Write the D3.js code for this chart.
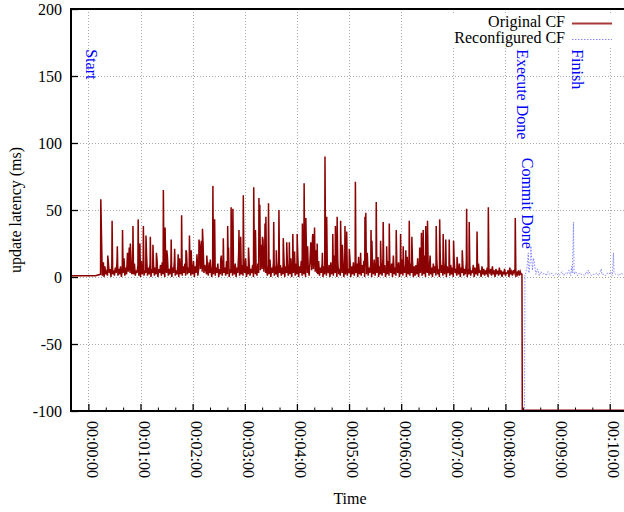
<!DOCTYPE html>
<html>
<head>
  <meta charset="utf-8"/>
  <title>Update latency</title>
  <script src="https://d3js.org/d3.v7.min.js"></script>
  <style>
    body { margin: 0; background: #fff; }
    text { font-family: "Liberation Serif", "DejaVu Serif", serif; }
  </style>
</head>
<body>
<div id="chart"></div>
<script>
// time is in seconds from the start of the run
var yTicks = [-100, -50, 0, 50, 100, 150, 200]
var xMajor = [0, 60, 120, 180, 240, 300, 360, 420, 480, 540, 600]

// Original CF: flat part before the load, a 1 s background trace, then the tall spikes
var origFlatTime = [-20, 8, 14]
var origFlatValue = [1, 1, 2]
var origBaseStart = 16
var origBase = [
  1,5,0,8,2,4,1,11,3,6,0,9,2,5,1,7,3,12,1,6,
  2,8,0,5,3,14,1,7,2,18,4,22,3,15,2,6,2,10,1,5,
  3,9,1,6,0,12,2,8,1,5,3,16,1,7,2,10,0,6,3,9,
  1,7,2,13,0,6,3,9,1,11,2,5,0,8,3,15,1,6,2,9,
  0,7,3,12,1,5,2,9,0,14,2,6,1,8,3,10,1,18,2,7,
  3,9,1,6,2,12,0,8,3,17,1,6,24,6,27,4,25,3,9,5,
  2,8,1,11,3,6,0,9,2,14,1,7,3,10,0,6,2,16,1,8,
  3,7,1,12,2,9,0,6,3,13,1,8,2,10,0,7,3,19,1,6,
  2,9,1,7,3,14,0,8,2,11,1,6,3,9,0,15,2,7,1,10,
  3,18,5,24,6,28,4,22,3,6,1,9,2,13,0,7,3,11,1,8,
  2,6,0,12,3,9,1,7,2,15,0,8,3,11,1,6,2,14,0,9,
  3,7,1,10,2,16,0,8,3,12,1,6,2,9,0,17,3,8,1,11,
  26,5,30,6,28,4,20,3,2,12,1,7,3,10,0,8,2,14,1,6,
  3,9,0,11,2,7,1,16,3,8,0,12,2,6,1,10,3,13,0,7,
  2,9,1,6,3,14,0,8,2,11,1,7,3,10,0,15,2,6,1,9,
  3,12,0,8,2,18,1,7,3,10,0,9,2,13,1,6,3,11,0,8,
  2,7,1,14,3,9,0,6,2,12,1,8,3,10,0,16,2,7,1,9,
  3,11,0,8,2,13,1,6,3,9,0,15,2,7,1,10,3,12,0,8,
  1,9,2,14,0,7,3,11,1,6,2,16,0,8,3,10,1,13,2,7,
  0,10,3,8,1,12,2,6,0,14,3,9,1,7,2,11,0,8,3,6,
  1,9,2,7,0,12,3,6,1,8,2,10,0,7,3,9,1,6,2,11,
  0,6,2,8,1,5,3,9,0,7,2,6,1,10,3,5,0,8,2,6,
  1,5,2,7,0,4,3,6,1,8,2,5,0,6,3,4,1,7,2,5,
  0,4,2,6,1,3,3,5,0,7,2,4,1,5,3,6,0,4,2,5,
  1,4,2
]
var origSpikeTime = [14,17,22,27,33,39,48,51,57,59,63,66,71,74,78,86,88,90,95,99,103,107,112,116,118,127,
  131,136,140,143,145,152,155,160,161,164,166,173,175,178,184,190,192,196,197,200,203,204,207,213,216,219,224,228,231,235,237,240,246,248,250,252,
  258,260,263,269,272,274,281,284,286,290,292,295,297,300,307,313,318,319,325,326,331,333,336,339,343,346,354,359,362,365,369,372,381,
  383,385,388,390,393,400,404,408,411,415,420,424,430,435,438,447,460,491]
var origSpikeValue = [58,11,16,42,23,35,25,38,43,25,38,31,30,24,18,65,37,20,28,21,17,46,20,31,20,28,
  36,16,13,68,43,13,29,38,22,52,51,35,30,61,22,67,35,59,54,30,40,45,55,41,20,50,29,26,26,32,19,32,40,70,44,23,
  32,37,25,18,90,45,32,38,45,42,24,38,34,21,71,18,45,48,35,27,56,15,27,41,23,40,35,32,23,20,42,30,22,
  33,35,38,42,16,38,43,32,28,28,27,15,20,51,41,34,52,44]
var origTailTime = [499, 499.4, 640]
var origTailValue = [2, -99.5, -99.5]

// Reconfigured CF: sits at -100 until it takes over
var reconfHeadTime = [-20, 502, 502.4]
var reconfHeadValue = [-100, -100, 2]
var reconfBaseStart = 503
var reconfBase = [
  2,8,3,15,5,12,2,6,1,4,
  2,3,1,4,2,3,1,2,3,1,
  2,4,1,3,2,5,1,3,2,4,
  1,3,2,2,1,4,2,3,1,2,
  2,3,1,4,2,2,1,3,2,4,
  1,3,2,2,1,3,2,2,1,3
]
var reconfSpikeTime = [506, 509, 512, 556, 558, 575, 590, 604]
var reconfSpikeValue = [18, 23, 14, 8, 41, 5, 6, 18]

// event labels
var eventNames = ["Start", "Execute Done", "Commit Done", "Finish"]
var eventTimes = [0, 496, 501.5, 559]
var eventLevels = [170, 170, 89, 170]

var seriesNames = ["Original CF", "Reconfigured CF"]

function buildSeries(t0, v0, baseStart, step, base, st, sv, t1, v1) {
  var pts = []
  t0.forEach(function(t, i) { pts.push([t, v0[i]]) })
  var mid = []
  base.forEach(function(v, i) { mid.push([baseStart + step * i, v]) })
  st.forEach(function(t, i) { mid.push([t + 0.3, sv[i]]) })
  mid.sort(function(a, b) { return a[0] - b[0] })
  pts = pts.concat(mid)
  if (t1) t1.forEach(function(t, i) { pts.push([t, v1[i]]) })
  return pts
}

var origData = buildSeries(origFlatTime, origFlatValue, origBaseStart, 1, origBase,
  origSpikeTime, origSpikeValue, origTailTime, origTailValue)
var reconfData = buildSeries(reconfHeadTime, reconfHeadValue, reconfBaseStart, 2, reconfBase,
  reconfSpikeTime, reconfSpikeValue)

var width = 624, height = 512
var pLeft = 71, pTop = 9, pBottom = 411, pRight = 641

var svg = d3.select("#chart").append("svg")
  .attr("width", width)
  .attr("height", height)

var x = d3.scaleLinear().domain([-20, 636]).range([pLeft, pRight])
var y = d3.scaleLinear().domain([-100, 200]).range([pBottom, pTop])

svg.append("defs").append("clipPath").attr("id", "clip")
  .append("rect")
  .attr("x", pLeft).attr("y", pTop)
  .attr("width", pRight - pLeft).attr("height", pBottom - pTop)

// grid
var grid = svg.append("g")
  .attr("stroke", "#a8a8a8")
  .attr("stroke-width", 1)
  .attr("stroke-dasharray", "1,2")
grid.selectAll(".gx").data(xMajor).enter().append("line")
  .attr("x1", function(d) { return Math.round(x(d)) + 0.5 })
  .attr("x2", function(d) { return Math.round(x(d)) + 0.5 })
  .attr("y1", pTop).attr("y2", pBottom)
grid.selectAll(".gy").data(yTicks.filter(function(d) { return d > -100 && d < 200 })).enter().append("line")
  .attr("x1", pLeft).attr("x2", width)
  .attr("y1", function(d) { return Math.round(y(d)) + 0.5 })
  .attr("y2", function(d) { return Math.round(y(d)) + 0.5 })

// key box hides the grid behind it
svg.append("rect")
  .attr("x", 450).attr("y", 13)
  .attr("width", 170).attr("height", 33)
  .attr("fill", "#fff")

function fmt(s) {
  var m = Math.floor(s / 60), sec = s % 60
  return "00:" + String(m).padStart(2, "0") + ":" + String(sec).padStart(2, "0")
}

// x axis: major and minor ticks pointing inward
var xMinor = d3.range(-20, 640, 20).filter(function(d) { return d % 60 != 0 })
svg.append("g")
  .attr("transform", "translate(0," + pBottom + ")")
  .call(d3.axisBottom(x).tickValues(xMinor).tickSize(-3.5).tickFormat(""))
  .call(function(g) { g.select(".domain").remove() })
var xAxis = svg.append("g")
  .attr("transform", "translate(0," + pBottom + ")")
  .call(d3.axisBottom(x).tickValues(xMajor).tickSize(-7).tickFormat(fmt))
xAxis.select(".domain").remove()
xAxis.selectAll("line").attr("stroke-width", 1.3)
xAxis.selectAll("text")
  .attr("transform", "rotate(90)")
  .attr("x", 10).attr("y", 0)
  .attr("dy", "0.13em")
  .attr("text-anchor", "start")
  .attr("font-size", 16)
  .attr("fill", "#000")

var yAxis = svg.append("g")
  .attr("transform", "translate(" + pLeft + ",0)")
  .call(d3.axisLeft(y).tickValues(yTicks).tickSize(-7).tickPadding(9)
    .tickFormat(function(d) { return String(d) }))
yAxis.select(".domain").remove()
yAxis.selectAll("line").attr("stroke-width", 1.3)
yAxis.selectAll("text").attr("font-size", 16).attr("fill", "#000")

// data
var line = d3.line()
  .x(function(d) { return x(d[0]) })
  .y(function(d) { return y(d[1]) })

var plot = svg.append("g").attr("clip-path", "url(#clip)")
plot.append("path")
  .datum(reconfData)
  .attr("d", line)
  .attr("fill", "none")
  .attr("stroke", "#3a3aff")
  .attr("stroke-opacity", 0.6)
  .attr("stroke-width", 1)
  .attr("stroke-dasharray", "1.5,1.5")
plot.append("path")
  .datum(origData)
  .attr("d", line)
  .attr("fill", "none")
  .attr("stroke", "#8b0000")
  .attr("stroke-width", 1.5)
  .attr("stroke-linejoin", "miter")

// border
svg.append("path")
  .attr("d", "M" + pRight + "," + pTop + "H" + pLeft + "V" + pBottom + "H" + pRight)
  .attr("fill", "none")
  .attr("stroke", "#000")
  .attr("stroke-width", 2)

// event labels
svg.selectAll(".ev").data(eventNames).enter().append("text")
  .attr("transform", function(d, i) {
    return "translate(" + x(eventTimes[i]) + "," + y(eventLevels[i]) + ") rotate(90)"
  })
  .attr("dy", "0.13em")
  .attr("font-size", 16)
  .attr("fill", "#0000ff")
  .text(function(d) { return d })

// key
var key = svg.append("g")
key.selectAll("text").data(seriesNames).enter().append("text")
  .attr("x", 565)
  .attr("y", function(d, i) { return 21 + i * 16 })
  .attr("dy", "0.35em")
  .attr("text-anchor", "end")
  .attr("font-size", 16)
  .text(function(d) { return d })
key.append("line")
  .attr("x1", 572).attr("x2", 612).attr("y1", 23.5).attr("y2", 23.5)
  .attr("stroke", "#a83a3a").attr("stroke-width", 2)
key.append("line")
  .attr("x1", 572).attr("x2", 612).attr("y1", 39.5).attr("y2", 39.5)
  .attr("stroke", "#3a3aff").attr("stroke-opacity", 0.6)
  .attr("stroke-width", 1).attr("stroke-dasharray", "1.5,1.5")

// axis titles
svg.append("text")
  .attr("transform", "translate(15,210) rotate(-90)")
  .attr("dy", "0.35em")
  .attr("text-anchor", "middle")
  .attr("font-size", 16)
  .text("update latency (ms)")
svg.append("text")
  .attr("x", 350).attr("y", 498)
  .attr("dy", "0.35em")
  .attr("text-anchor", "middle")
  .attr("font-size", 16)
  .text("Time")
</script>
</body>
</html>
